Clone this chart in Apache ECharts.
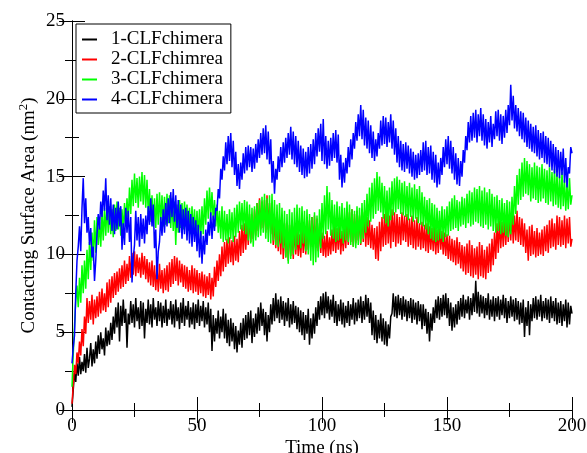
<!DOCTYPE html>
<html>
<head>
<meta charset="utf-8">
<script src="https://cdn.jsdelivr.net/npm/echarts@6/dist/echarts.min.js"></script>
<style>
html,body{margin:0;padding:0;background:#fff;}
#c{width:587px;height:453px;}
</style>
</head>
<body>
<div id="c"></div>
<script>
// Time axis: one sample every 0.5 ns, 0..200
const timeStart = 0;
const timeStep = 0.5;
const seriesNames = ['1-CLFchimera', '2-CLFchimrea', '3-CLFchimera', '4-CLFchimera'];
const xTicks = [0, 50, 100, 150, 200];
const yTicks = [0, 5, 10, 15, 20, 25];

const clf1 = [
0.2,1.3,2.4,1.8,3.0,2.2,3.4,2.3,3.1,2.5,
3.6,2.4,4.0,2.7,3.3,4.3,2.8,3.9,3.0,4.4,
3.3,4.8,3.6,5.0,3.9,4.6,3.5,5.3,4.1,5.1,
4.2,5.6,4.5,6.0,4.9,6.6,5.3,6.9,4.4,6.7,
5.4,7.1,5.6,6.5,4.0,6.2,5.5,7.0,5.6,6.8,
5.3,7.2,5.7,6.6,5.2,7.0,5.4,6.9,4.6,6.5,
5.6,7.1,5.5,6.8,5.3,7.2,5.8,6.6,5.4,7.0,
5.7,6.9,5.3,6.7,5.6,7.1,5.4,6.5,5.8,7.0,
5.5,6.8,5.3,7.1,5.7,6.6,5.2,6.9,5.6,7.2,
5.4,6.7,5.8,7.0,5.3,6.6,5.5,6.9,5.2,6.8,
5.6,7.1,5.4,6.7,5.7,7.0,5.3,6.6,5.5,6.9,
5.0,6.5,3.8,6.1,4.4,5.9,4.9,6.4,4.6,6.0,
5.0,6.5,4.6,6.2,4.3,5.8,4.1,5.9,4.4,5.6,
3.9,5.4,3.7,5.1,4.2,5.6,4.0,5.9,4.5,6.1,
4.6,6.3,4.8,6.4,4.3,5.9,4.7,6.2,4.9,6.6,
5.1,6.9,5.4,6.5,4.8,6.3,4.4,6.1,5.0,6.8,
5.5,7.2,5.7,7.5,5.9,7.1,5.6,7.3,5.8,7.0,
5.4,6.9,5.7,7.2,5.3,6.8,5.5,7.0,5.6,6.7,
5.2,6.6,5.0,6.4,4.8,6.3,4.5,6.1,4.9,6.5,
4.2,5.9,4.6,6.2,4.9,6.6,5.4,7.0,5.8,7.3,
6.1,7.5,5.9,7.6,6.2,7.3,5.8,7.1,6.0,7.4,
5.6,7.0,5.4,6.8,5.7,7.1,5.5,6.9,5.3,6.7,
5.6,7.0,5.4,6.8,5.8,7.2,5.5,6.9,5.7,7.1,
5.9,7.3,5.6,7.0,5.8,7.4,6.0,7.2,5.6,6.9,
4.8,6.4,4.5,6.1,4.3,5.8,4.6,6.2,4.4,5.9,
4.2,5.7,4.1,5.5,4.6,6.0,6.2,7.5,6.0,7.3,
5.9,7.4,6.1,7.2,5.8,7.3,6.0,7.1,5.7,7.0,
5.9,7.2,5.6,7.1,5.8,6.9,5.5,7.0,5.7,6.8,
5.2,6.8,5.4,6.5,4.9,6.3,4.4,6.2,5.1,6.6,
5.6,7.1,5.9,7.3,5.8,7.2,6.0,7.4,6.1,7.5,
5.9,7.2,5.4,6.9,5.1,6.6,5.3,6.8,5.5,7.0,
5.8,7.2,6.0,7.4,5.9,7.1,6.2,7.3,5.8,7.2,
6.1,7.5,6.3,8.3,6.2,7.6,6.0,7.4,6.2,7.3,
5.9,7.2,6.1,7.5,5.8,7.1,6.0,7.3,5.7,7.2,
6.0,7.3,5.8,7.1,6.1,7.4,5.9,7.2,5.6,7.0,
5.9,7.3,6.0,7.1,5.7,7.2,5.8,7.0,5.5,6.9,
5.6,7.1,4.7,6.6,5.4,7.0,4.8,6.8,5.7,7.2,
5.9,7.3,5.8,7.1,6.0,7.4,5.7,7.0,5.9,7.2,
5.8,7.1,5.6,7.3,5.9,7.0,5.7,7.2,5.5,6.9,
5.6,7.0,5.4,6.8,5.7,7.1,5.3,6.9,5.5,6.7,
6.2];

const clf2 = [
0.4,1.6,2.9,2.3,3.7,3.0,4.4,3.5,5.2,4.1,
6.0,4.9,7.2,5.6,7.0,5.8,7.4,5.5,7.1,5.9,
7.3,6.0,7.6,6.2,7.8,6.4,7.5,6.3,8.2,6.6,
8.4,6.9,8.6,7.2,8.8,7.4,8.9,7.6,9.1,7.8,
9.3,7.9,9.6,8.1,9.4,8.3,9.9,8.5,10.1,8.7,
10.2,8.6,10.0,8.8,9.8,8.5,10.1,8.7,9.9,8.4,
9.7,8.2,9.5,8.0,9.6,7.9,9.3,7.7,9.2,7.6,
9.4,7.8,9.0,7.5,9.1,7.7,9.3,7.6,9.5,7.9,
9.7,8.1,9.9,8.3,9.8,8.0,9.6,8.2,9.4,7.9,
9.3,7.8,9.2,7.6,9.0,7.7,9.3,7.5,9.1,7.6,
9.0,7.4,8.8,7.5,8.9,7.3,8.7,7.2,8.6,7.4,
8.8,7.1,8.5,7.3,9.2,7.9,9.6,8.3,10.0,8.6,
10.5,8.9,10.8,9.2,11.0,9.4,11.1,9.5,10.9,9.3,
11.2,9.6,11.0,9.5,11.5,9.9,11.9,10.1,12.0,10.3,
12.3,10.6,12.6,10.8,12.5,11.0,12.9,11.2,13.3,11.5,
13.6,11.6,13.4,11.7,13.5,11.4,13.8,11.6,13.3,11.3,
12.6,10.6,12.4,10.4,12.5,10.2,12.1,10.0,12.2,9.7,
12.0,9.8,11.7,9.6,11.9,9.9,11.6,9.7,11.8,10.0,
11.5,9.9,11.3,9.8,11.6,10.1,11.4,10.0,12.0,10.3,
12.2,10.5,12.4,10.6,12.5,10.4,12.3,10.2,12.0,10.1,
11.4,9.9,11.2,9.8,11.5,9.9,11.1,10.0,11.6,10.2,
11.8,10.1,11.7,10.3,11.9,10.0,11.5,10.2,11.7,10.4,
12.4,10.6,12.7,10.8,12.9,10.5,12.6,10.7,12.8,10.9,
12.5,10.6,12.9,10.8,12.7,10.5,12.4,10.6,12.2,10.4,
11.9,10.3,11.7,9.7,11.8,9.6,12.1,10.2,12.4,10.5,
12.6,10.6,12.8,10.7,12.5,10.4,12.9,10.8,12.7,10.5,
12.6,10.7,12.4,10.6,12.7,10.9,12.5,10.8,12.6,10.5,
12.3,10.6,12.5,10.4,12.2,10.3,12.4,10.5,12.0,10.3,
12.1,10.4,11.9,10.2,12.0,10.1,11.8,10.3,11.7,10.2,
11.8,10.0,11.6,10.1,11.9,10.3,11.5,10.0,11.4,9.9,
11.3,9.7,11.2,9.6,11.0,9.5,10.9,9.3,11.1,9.4,
10.8,9.1,10.6,8.9,10.5,8.7,10.7,8.8,10.9,8.6,
10.6,8.5,10.4,8.7,10.5,8.4,10.8,8.6,10.6,8.5,
10.3,8.4,10.5,8.8,10.7,8.9,11.0,9.3,11.4,9.7,
12.0,10.1,12.2,10.4,12.1,10.5,12.3,10.6,12.4,10.8,
12.6,10.9,12.7,10.7,12.5,10.9,12.8,10.8,12.4,10.6,
12.3,10.5,12.0,10.1,11.6,9.6,11.8,9.9,11.9,10.0,
11.5,9.8,11.7,9.9,11.4,10.0,11.6,9.9,11.8,10.2,
11.9,10.1,12.2,10.4,12.3,10.5,12.0,10.3,12.5,10.6,
12.4,10.5,12.2,10.6,12.5,10.4,12.3,10.7,12.4,10.5,
11.0];

const clf3 = [
1.5,3.6,5.4,7.0,8.0,6.6,8.5,6.9,9.3,7.5,
9.6,7.8,10.3,8.4,10.8,9.0,11.4,9.6,12.2,10.1,
12.4,10.6,12.1,10.5,12.7,10.9,13.0,11.2,13.3,11.4,
13.1,11.3,12.9,11.1,13.2,11.5,13.4,11.6,13.0,11.2,
12.9,11.4,13.3,11.8,13.6,12.2,14.3,12.6,14.8,13.1,
15.2,13.3,14.9,13.0,15.0,13.4,15.3,13.2,15.1,13.0,
14.8,12.6,14.2,12.1,13.8,11.8,13.6,11.7,13.9,11.9,
14.0,12.0,13.8,11.8,13.7,11.9,13.9,12.0,13.8,11.7,
13.6,11.5,13.4,10.6,13.2,11.4,13.5,11.7,13.3,11.6,
13.4,11.8,13.2,11.5,13.0,11.3,13.1,11.4,12.9,11.2,
12.8,11.1,12.9,11.0,13.1,11.3,13.6,11.9,14.1,12.3,
14.3,12.5,14.0,12.2,13.5,11.8,13.2,11.4,12.8,11.0,
13.1,10.8,12.8,10.9,12.6,10.7,12.9,11.0,12.7,10.8,
13.0,11.1,13.2,11.4,13.4,11.6,13.3,11.5,13.5,11.3,
13.4,10.9,13.2,10.7,13.0,10.5,13.1,10.9,13.3,11.1,
13.5,11.2,13.7,11.4,13.9,11.0,13.6,10.8,13.8,10.7,
13.9,10.9,13.5,10.6,13.2,10.5,13.3,10.7,13.0,10.4,
12.8,9.8,12.6,9.4,12.9,9.7,12.7,10.0,13.0,10.3,
13.2,10.6,13.0,10.4,13.1,10.7,12.8,10.2,12.9,10.0,
12.6,9.6,12.4,9.3,12.7,9.5,12.5,9.8,12.9,10.4,
13.3,11.0,13.8,11.3,14.4,11.6,14.0,11.2,13.5,11.0,
13.2,10.8,13.4,10.9,13.1,11.0,13.3,10.7,13.0,10.9,
13.4,10.8,13.2,10.6,12.9,10.5,12.8,10.4,13.1,10.6,
13.0,10.7,13.3,11.0,13.5,11.4,13.9,11.8,14.3,12.1,
14.6,12.3,14.9,12.6,15.3,12.8,15.0,12.7,14.6,12.3,
14.4,12.0,14.1,11.8,14.3,12.2,14.7,12.5,14.9,12.7,
15.0,12.9,14.8,12.6,14.6,12.5,14.7,12.4,14.4,12.2,
14.6,12.4,14.3,12.1,14.5,12.3,14.2,12.0,14.4,11.9,
14.0,11.8,13.7,11.6,13.5,11.3,13.6,11.0,13.3,10.9,
13.2,10.8,13.0,10.9,12.8,11.0,13.1,10.8,12.9,11.1,
13.1,11.2,13.4,11.5,13.6,11.6,13.8,11.7,13.5,11.5,
13.4,11.8,13.7,11.9,13.6,11.7,13.9,12.0,14.1,11.8,
14.0,11.9,14.3,12.1,14.2,12.0,14.4,11.8,14.1,11.7,
14.3,11.9,14.0,11.6,14.2,11.8,13.9,11.5,13.7,11.4,
13.8,11.5,13.5,11.3,13.6,11.4,13.3,11.2,13.5,11.1,
13.4,11.3,13.7,11.9,14.4,12.6,15.1,13.2,15.5,13.5,
15.9,13.7,16.2,13.9,16.0,13.8,15.8,13.4,15.6,13.6,
15.9,13.5,15.7,13.3,15.6,13.4,15.8,13.6,15.5,13.3,
15.4,13.2,15.6,13.4,15.3,13.1,15.5,13.2,15.2,13.0,
15.0,12.9,15.3,13.1,14.8,12.8,14.6,12.9,14.9,13.2,
13.8];

const clf4 = [
3.0,4.0,4.8,7.5,9.6,10.5,11.8,10.2,13.0,14.9,
12.0,13.6,11.4,12.4,10.6,11.7,9.8,10.5,8.3,9.6,
11.3,12.6,11.6,13.4,12.4,14.1,12.8,14.9,12.2,13.8,
11.9,13.6,11.5,13.2,11.3,13.0,11.6,13.4,11.8,13.1,
10.3,12.0,10.6,13.0,11.4,12.8,10.8,12.4,8.2,9.8,
10.6,12.8,10.9,12.4,10.5,12.6,11.0,12.3,10.7,12.5,
11.3,13.1,11.9,13.6,11.8,13.2,10.4,11.6,8.4,10.2,
10.8,12.4,11.2,12.9,11.4,13.3,11.8,13.6,12.0,14.0,
12.4,14.2,12.1,13.8,11.7,13.5,11.4,13.2,11.0,12.9,
11.3,13.0,10.9,12.8,10.7,12.6,10.5,12.4,10.8,12.2,
10.2,11.9,9.8,11.5,9.4,11.2,10.0,11.6,10.6,12.1,
11.2,12.7,11.0,12.5,11.5,13.0,12.8,14.2,13.6,15.5,
14.8,16.3,15.4,17.2,15.8,17.6,16.0,17.8,15.6,17.3,
15.1,16.6,14.4,15.8,14.2,15.9,14.8,16.5,15.2,16.9,
15.4,17.0,15.6,16.9,15.3,16.8,15.5,17.1,15.9,17.4,
16.2,17.8,16.4,18.1,16.5,18.3,16.1,17.9,15.8,17.4,
14.6,16.0,13.9,15.5,14.8,16.3,15.3,16.9,15.6,17.2,
15.9,17.5,16.2,17.8,16.4,18.2,16.1,17.9,15.8,17.6,
15.6,17.3,15.3,17.0,15.1,16.8,14.9,16.6,15.0,16.9,
15.2,17.1,15.5,17.4,15.8,17.8,16.3,18.1,16.6,18.4,
16.0,18.7,15.8,17.6,15.5,17.3,15.7,17.5,16.0,17.8,
16.2,18.0,15.9,17.7,14.8,16.4,14.3,15.9,14.6,16.2,
15.2,16.9,15.6,17.4,16.1,17.8,16.8,18.5,17.3,19.0,
17.6,19.6,17.4,19.3,17.0,18.8,16.8,18.6,16.5,18.3,
16.2,17.9,16.0,17.4,16.3,17.8,16.8,18.6,17.0,18.9,
17.1,18.8,16.9,18.5,17.2,19.0,16.8,18.6,16.4,18.1,
15.9,17.6,15.6,17.3,15.4,17.1,15.3,17.2,15.5,17.0,
15.2,16.8,15.0,16.6,14.8,16.4,14.9,16.5,15.1,16.7,
15.3,17.2,15.4,17.3,15.1,16.9,15.2,17.0,14.8,16.6,
14.6,16.4,14.3,15.9,14.5,16.2,15.1,16.9,15.6,17.4,
15.8,17.6,15.5,17.3,15.2,16.9,14.8,16.5,14.5,16.2,
14.4,16.0,15.0,16.7,15.9,17.6,16.7,18.5,17.2,18.9,
17.3,19.1,17.5,19.3,17.2,19.0,17.6,19.4,17.3,19.0,
17.0,18.7,16.8,18.5,17.2,18.9,16.9,18.4,17.4,19.2,
17.6,19.3,17.3,19.0,17.1,18.9,17.5,19.3,17.8,19.6,
18.3,20.9,18.6,20.2,18.1,19.6,17.9,19.4,17.6,19.2,
17.4,19.1,17.2,18.8,16.9,18.6,16.8,18.4,16.6,18.2,
16.5,18.3,16.3,18.0,16.1,17.8,16.2,17.9,15.9,17.6,
15.8,17.5,15.6,17.3,15.4,17.1,15.2,16.9,15.0,16.7,
14.9,16.6,15.1,16.8,14.6,16.2,14.3,15.6,15.2,16.9,
16.5];

const seriesValues = [clf1, clf2, clf3, clf4];
const seriesColors = ['#000000', '#ff0000', '#00ff00', '#0000ff'];

function toPairs(vals) {
  return vals.map((v, i) => [timeStart + i * timeStep, v]);
}

const FONT = 'Liberation Serif';
const chart = echarts.init(document.getElementById('c'), null, {renderer: 'canvas'});

const axisLineStyle = {show: true, lineStyle: {color: '#000', width: 1}};
const majorTick = {show: true, inside: true, length: 13, lineStyle: {color: '#000'}};
const minorTick = {show: true, splitNumber: 2, length: 7, lineStyle: {color: '#000'}};

chart.setOption({
  animation: false,
  backgroundColor: '#fff',
  grid: {left: 72, right: 15, top: 21, bottom: 43, containLabel: false, outerBoundsMode: 'none'},
  legend: {
    orient: 'vertical',
    left: 76, top: 24,
    padding: [6, 8, 4, 6],
    itemGap: 1,
    itemWidth: 15, itemHeight: 2,
    icon: 'rect',
    borderColor: '#000', borderWidth: 1,
    backgroundColor: '#fff',
    textStyle: {fontFamily: FONT, fontSize: 19, color: '#000', padding: [0, 0, 0, 9], lineHeight: 19},
    data: seriesNames
  },
  xAxis: [{
    type: 'value', min: xTicks[0], max: xTicks[xTicks.length - 1], interval: xTicks[1] - xTicks[0],
    position: 'bottom',
    name: 'Time (ns)', nameLocation: 'middle', nameGap: 29, nameMoveOverlap: false,
    nameTextStyle: {fontFamily: FONT, fontSize: 19, color: '#000', verticalAlign: 'top'},
    axisLine: axisLineStyle, axisTick: majorTick, minorTick: minorTick,
    axisLabel: {fontFamily: FONT, fontSize: 19, color: '#000', margin: 7},
    splitLine: {show: false}
  }, {
    type: 'value', min: xTicks[0], max: xTicks[xTicks.length - 1], interval: xTicks[1] - xTicks[0],
    position: 'top',
    axisLine: axisLineStyle, axisTick: majorTick, minorTick: minorTick,
    axisLabel: {show: false},
    splitLine: {show: false}
  }],
  yAxis: [{
    type: 'value', min: yTicks[0], max: yTicks[yTicks.length - 1], interval: yTicks[1] - yTicks[0],
    position: 'left',
    name: '{a|Contacting Surface Area (nm}{s|2}{a|)}', nameLocation: 'middle', nameGap: 30, nameMoveOverlap: false,
    nameTextStyle: {
      fontFamily: FONT, fontSize: 19, color: '#000',
      rich: {
        a: {fontFamily: FONT, fontSize: 19, color: '#000'},
        s: {fontFamily: FONT, fontSize: 13, color: '#000', padding: [0, 0, 12, 0]}
      }
    },
    axisLine: axisLineStyle, axisTick: majorTick, minorTick: minorTick,
    axisLabel: {fontFamily: FONT, fontSize: 19, color: '#000', margin: 7},
    splitLine: {show: false}
  }, {
    type: 'value', min: yTicks[0], max: yTicks[yTicks.length - 1], interval: yTicks[1] - yTicks[0],
    position: 'right',
    axisLine: axisLineStyle, axisTick: majorTick, minorTick: minorTick,
    axisLabel: {show: false},
    splitLine: {show: false}
  }],
  series: seriesNames.map((n, k) => ({
    name: n,
    type: 'line',
    xAxisIndex: 0, yAxisIndex: 0,
    data: toPairs(seriesValues[k]),
    showSymbol: false,
    symbol: 'none',
    sampling: null,
    color: seriesColors[k],
    lineStyle: {color: seriesColors[k], width: 1.5},
    z: 2 + k
  }))
});
</script>
</body>
</html>
